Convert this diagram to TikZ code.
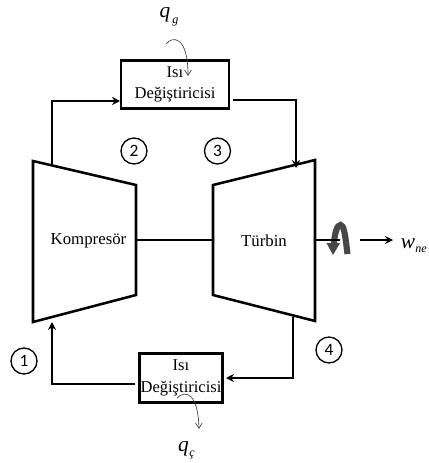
\documentclass[tikz,border=0pt]{standalone}
\usepackage{fontspec}
\setmainfont{Liberation Serif}
\newfontfamily\digitfont{Carlito}
\usetikzlibrary{arrows.meta,calc}
\tikzset{
  machine/.style={draw=black,line width=1.9pt,line join=miter},
  flow/.style={draw=black,line width=1.35pt,-{Stealth[length=6pt,width=6pt,inset=2pt]}},
  plainline/.style={draw=black,line width=1.9pt},
  hx/.style={draw=black,line width=2.2pt,inner sep=0pt,align=center,font=\fontsize{12.4pt}{15.5pt}\selectfont},
  statept/.style={draw=black,circle,line width=1pt,minimum size=19.5pt,inner sep=0pt,font=\digitfont\fontsize{13pt}{14pt}\selectfont},
  lbl/.style={inner sep=0pt,font=\fontsize{12.6pt}{14pt}\selectfont},
  heat/.style={draw=black!75,line width=0.5pt,-{Straight Barb[length=4pt,width=5pt]}},
  symb/.style={inner sep=0pt,font=\fontsize{16pt}{18pt}\selectfont\itshape},
  subs/.style={inner sep=0pt,font=\fontsize{9pt}{10pt}\selectfont\itshape}
}
\begin{document}
\begin{tikzpicture}[x=0.75pt,y=-0.75pt]
\useasboundingbox (0,0) rectangle (428,463);
\fill[white] (0,0) rectangle (428,463);
% machines
\draw[machine] (33,161) -- (136,185) -- (136,295) -- (33,322) -- cycle;
\draw[machine] (213,185) -- (315,160) -- (315,321) -- (213,295) -- cycle;
\node[lbl] (komp) at (88.5,241) {Kompresör};
\node[lbl] (turb) at (264,240.5) {Türbin};
\coordinate (shaftL) at (136,240);
\coordinate (shaftR) at (213,240);
\draw[plainline] (shaftL) -- (shaftR);
% heat exchangers
\node[hx,minimum width=81pt,minimum height=36.5pt] (hxtop) at (175,84.5) {Isı\\Değiştiricisi};
\node[hx,minimum width=62pt,minimum height=37pt] (hxbot) at (181,378) {Isı\\[1pt]Değiştiricisi};
% flow connectors
\coordinate (compOut) at (52,165.5);
\coordinate (c1) at (52,101);
\coordinate (hxtopIn) at (120,101);
\draw[flow] (compOut) -- (c1) -- (hxtopIn);
\coordinate (hxtopOut) at (233,100);
\coordinate (c2) at (296,100);
\coordinate (turbIn) at (296,168);
\draw[flow] (hxtopOut) -- (c2) -- (turbIn);
\coordinate (turbOut) at (293,317);
\coordinate (c3) at (293,378);
\coordinate (hxbotIn) at (226,378);
\draw[flow] (turbOut) -- (c3) -- (hxbotIn);
\coordinate (hxbotOut) at (135,384);
\coordinate (c4) at (52,384);
\coordinate (compIn) at (52,322);
\draw[flow] (hxbotOut) -- (c4) -- (compIn);
% state points
\node[statept] (s2) at (134,151) {2};
\node[statept] (s3) at (217.5,151) {3};
\node[statept] (s1) at (24,361) {1};
\node[statept] (s4) at (329,350) {4};
% heat labels
\node[symb] (qg) at (165,15) {q};
\node[subs,anchor=west] (qgs) at (172,22) {g};
\node[symb] (qc) at (183.5,449) {q};
\node[subs,anchor=west] (qcs) at (189,455) {ç};
\coordinate (hs1) at (166,44);
\coordinate (he1) at (188,76);
\draw[heat] (hs1) .. controls (172,36) and (188,35) .. (he1);
\coordinate (hs2) at (177,398);
\coordinate (he2) at (199,429);
\draw[heat] (hs2) .. controls (185,390) and (198,392) .. (he2);
% output work
\draw[black!72,line width=4.6pt] (333.5,246) .. controls (335,232) and (337,225) .. (340.5,225) .. controls (344,225) and (345,234) .. (347.5,254);
\fill[black!72] (326.5,243) -- (340,243) -- (333,255) -- cycle;
\coordinate (rotS) at (316,240);
\coordinate (rotE) at (340,240);
\draw[draw=black,line width=1.2pt] (rotS) -- (rotE);
\node[symb,inner sep=0pt] (wne) at (408,244) {w};
\node[subs,anchor=west] (wnes) at (415,250) {ne};
\coordinate (ws) at (360,240);
\draw[flow] (ws) -- (393,240);
\end{tikzpicture}
\end{document}
